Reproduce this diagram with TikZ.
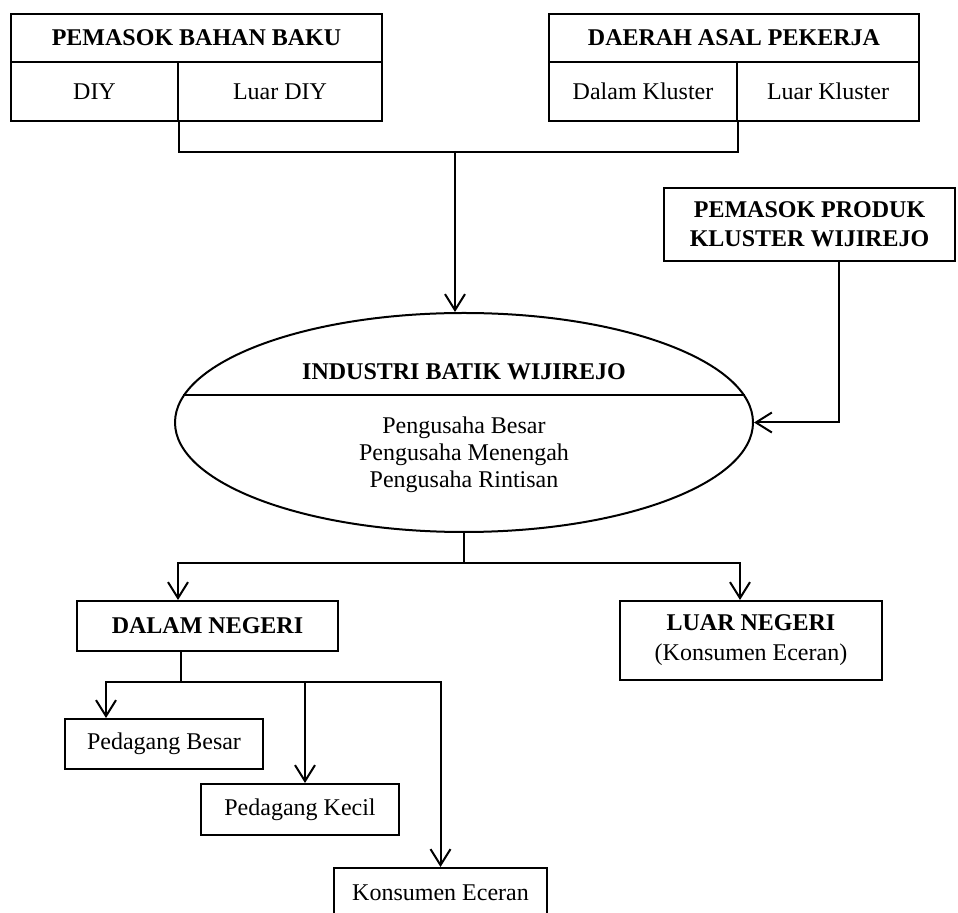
\documentclass[tikz,border=0pt]{standalone}
\usepackage{fontspec}
\setmainfont{Liberation Serif}
\usetikzlibrary{arrows.meta,shapes.geometric}
\tikzset{
  ln/.style={line width=1pt},
  box/.style={draw,ln,inner sep=0pt,align=center,font=\fontsize{12}{14.5}\selectfont},
  hbox/.style={box,font=\fontsize{12}{14.5}\selectfont\bfseries},
  arr/.style={ln,-{Straight Barb[length=8pt,width=10pt]}}
}
\begin{document}
\begin{tikzpicture}[x=0.5pt,y=-0.5pt]
\useasboundingbox (0,0) rectangle (958,913);
\node[hbox,minimum width=185.5pt,minimum height=24pt] (bahan) at (196.5,38) {PEMASOK BAHAN BAKU};
\node[box,minimum width=83.5pt,minimum height=29.5pt] (diy) at (94.5,91.5) {DIY};
\node[box,minimum width=102pt,minimum height=29.5pt] (luardiy) at (280,91.5) {Luar DIY};
\node[hbox,minimum width=185pt,minimum height=24pt] (pekerja) at (734,38) {DAERAH ASAL PEKERJA};
\node[box,minimum width=94pt,minimum height=29.5pt] (dalamk) at (643,91.5) {Dalam Kluster};
\node[box,minimum width=91pt,minimum height=29.5pt] (luark) at (828,91.5) {Luar Kluster};
\node[hbox,minimum width=145.5pt,minimum height=36.5pt] (produk) at (809.5,224.5) {PEMASOK PRODUK\\KLUSTER WIJIREJO};
\node[draw,ln,ellipse,inner sep=0pt,minimum width=289pt,minimum height=109.5pt] (industri) at (464,422.5) {};
\draw[ln] (183,395) -- (745,395);
\node[font=\fontsize{12}{14.5}\selectfont\bfseries] (ibjudul) at (464,372) {INDUSTRI BATIK WIJIREJO};
\node[align=center,font=\fontsize{12}{13.5}\selectfont] (ibisi) at (464,455) {Pengusaha Besar\\Pengusaha Menengah\\Pengusaha Rintisan};
\node[hbox,minimum width=130.5pt,minimum height=25pt] (dalam) at (207.5,626) {DALAM NEGERI};
\node[box,minimum width=131pt,minimum height=39.5pt,font=\fontsize{12}{15}\selectfont] (luar) at (751,640.5) {\textbf{LUAR NEGERI}\\(Konsumen Eceran)};
\node[box,minimum width=99pt,minimum height=25pt] (pbesar) at (164,744) {Pedagang Besar};
\node[box,minimum width=99pt,minimum height=25.5pt] (pkecil) at (300,809.5) {Pedagang Kecil};
\node[box,minimum width=106.5pt,minimum height=25pt] (konsumen) at (440.5,893) {Konsumen Eceran};
\draw[ln] (diy.south east) -- ++(0,30) -| (dalamk.south east);
\coordinate (gabungatas) at (455,151);
\draw[arr] (gabungatas) -- (gabungatas |- industri.north);
\draw[arr] ([xshift=14.75pt]produk.south) |- (industri.east);
\draw[ln] (industri.south) -- ++(0,30) coordinate (gabungbawah);
\draw[arr] (gabungbawah) -| ([xshift=-14.75pt]dalam.north);
\draw[arr] (gabungbawah) -| ([xshift=-5.5pt]luar.north);
\draw[ln] ([xshift=-13.25pt]dalam.south) -- ++(0,30) coordinate (gabungdn);
\draw[arr] (gabungdn) -| ([xshift=-29pt]pbesar.north);
\draw[arr] (gabungdn) -| ([xshift=2.5pt]pkecil.north);
\draw[arr] (gabungdn) -| (konsumen.north);
\end{tikzpicture}
\end{document}
